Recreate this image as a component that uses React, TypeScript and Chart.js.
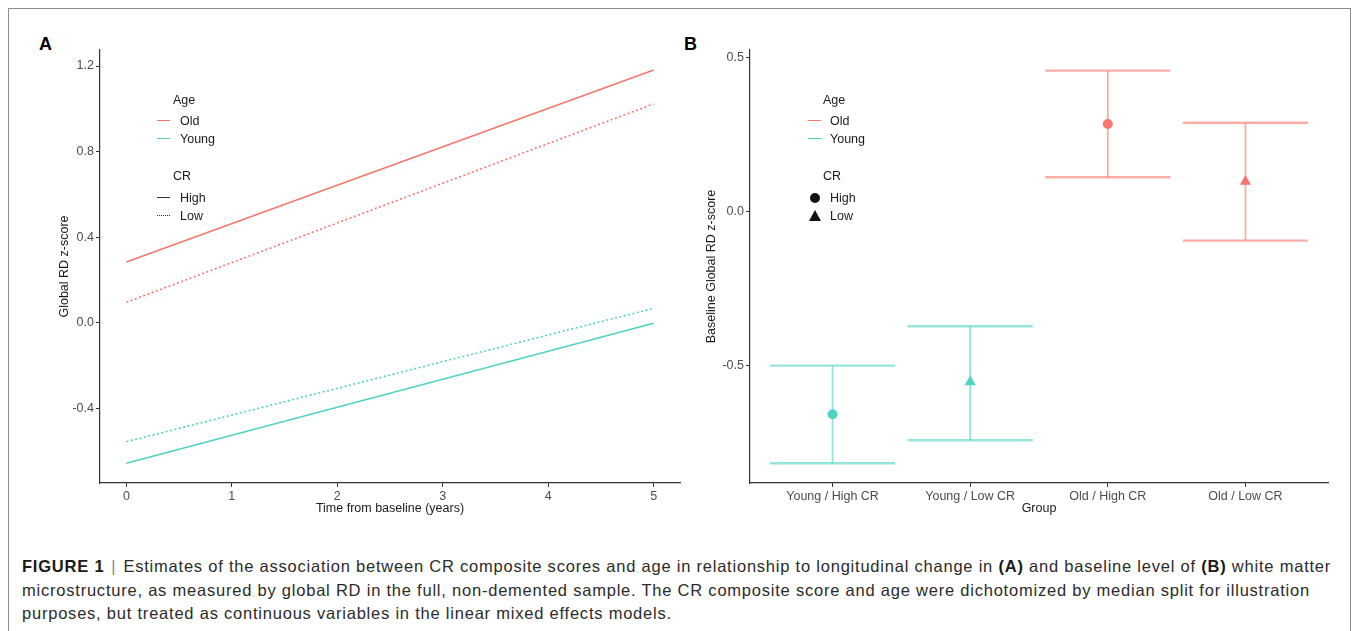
import React, { useEffect, useRef } from 'react';
import { Chart, registerables } from 'chart.js';

Chart.register(...registerables);

// ---------- Panel A data ----------
const YEARS = [0, 5];
const OLD_HIGH = [0.283, 1.182];
const OLD_LOW = [0.095, 1.023];
const YOUNG_HIGH = [-0.658, -0.003];
const YOUNG_LOW = [-0.557, 0.067];
const A_X_TICKS = [0, 1, 2, 3, 4, 5];
const A_Y_TICKS = [-0.4, 0.0, 0.4, 0.8, 1.2];

// ---------- Panel B data ----------
const GROUPS = ['Young / High CR', 'Young / Low CR', 'Old / High CR', 'Old / Low CR'];
const GROUP_AGE = ['Young', 'Young', 'Old', 'Old'];
const GROUP_CR = ['High', 'Low', 'High', 'Low'];
const ESTIMATE = [-0.66, -0.555, 0.283, 0.096];
const LOWER = [-0.819, -0.744, 0.11, -0.096];
const UPPER = [-0.502, -0.374, 0.456, 0.287];
const B_Y_TICKS = [-0.5, 0.0, 0.5];

const OLD_COLOR = '#F8766D';
const YOUNG_COLOR = '#4ED3C4';
const OLD_BAR = 'rgba(248,118,109,0.6)';
const YOUNG_BAR = 'rgba(78,211,196,0.6)';
const FONT = "'Liberation Sans', Arial, Helvetica, sans-serif";
const AXIS_COLOR = '#333333';
const TICK_TEXT = '#4d4d4d';

const ageColor = (a: string) => (a === 'Old' ? OLD_COLOR : YOUNG_COLOR);
const ageBar = (a: string) => (a === 'Old' ? OLD_BAR : YOUNG_BAR);

function axisCommon() {
  return {
    grid: { display: true, drawOnChartArea: false, drawTicks: true, tickLength: 4, color: AXIS_COLOR, lineWidth: 1 },
    border: { display: true, color: AXIS_COLOR, width: 1.2 },
  };
}

function PanelA() {
  const ref = useRef<HTMLCanvasElement | null>(null);
  useEffect(() => {
    if (!ref.current) return;
    const mk = (ys: number[], color: string, dotted: boolean) => ({
      data: YEARS.map((x, i) => ({ x, y: ys[i] })),
      borderColor: color,
      backgroundColor: color,
      borderWidth: 1.6,
      borderDash: dotted ? [2, 2.5] : [],
      pointRadius: 0,
      fill: false,
      tension: 0,
    });
    const chart = new Chart(ref.current, {
      type: 'line',
      data: {
        datasets: [
          mk(OLD_HIGH, OLD_COLOR, false),
          mk(OLD_LOW, OLD_COLOR, true),
          mk(YOUNG_HIGH, YOUNG_COLOR, false),
          mk(YOUNG_LOW, YOUNG_COLOR, true),
        ],
      },
      options: {
        animation: false,
        responsive: false,
        maintainAspectRatio: false,
        layout: { padding: { left: 57, top: 10, right: 10, bottom: 14 } },
        plugins: { legend: { display: false }, tooltip: { enabled: false } },
        scales: {
          x: {
            type: 'linear',
            min: -0.25,
            max: 5.25,
            ...axisCommon(),
            afterBuildTicks: (ax: any) => { ax.ticks = A_X_TICKS.map((v) => ({ value: v })); },
            afterFit: (s: any) => { s.height = 33; },
            ticks: { color: TICK_TEXT, font: { size: 12.5, family: FONT }, padding: 2, maxRotation: 0, callback: (v: any) => String(v) },
            title: { display: true, text: 'Time from baseline (years)', color: '#1a1a1a', font: { size: 12.5, family: FONT }, padding: { top: 0, bottom: 0 } },
          },
          y: {
            type: 'linear',
            min: -0.75,
            max: 1.275,
            ...axisCommon(),
            afterBuildTicks: (ax: any) => { ax.ticks = A_Y_TICKS.map((v) => ({ value: v })); },
            afterFit: (s: any) => { s.width = 43; },
            ticks: { color: TICK_TEXT, font: { size: 12.5, family: FONT }, padding: 2, callback: (v: any) => Number(v).toFixed(1) },
            title: { display: true, text: 'Global RD z-score', color: '#1a1a1a', font: { size: 12.5, family: FONT }, padding: { top: 0, bottom: 0 } },
          },
        },
      } as any,
    });
    return () => chart.destroy();
  }, []);
  return <canvas ref={ref} width={690} height={490} style={{ position: 'absolute', left: 0, top: 40, width: 690, height: 490 }} />;
}

function PanelB() {
  const ref = useRef<HTMLCanvasElement | null>(null);
  useEffect(() => {
    if (!ref.current) return;
    const CAP = 0.455;
    const points = GROUPS.map((g, i) => ({
      label: g,
      data: [{ x: i + 1, y: ESTIMATE[i] }],
      showLine: false,
      pointStyle: GROUP_CR[i] === 'High' ? 'circle' : 'triangle',
      pointRadius: GROUP_CR[i] === 'High' ? 5 : 6.5,
      pointBackgroundColor: ageColor(GROUP_AGE[i]),
      pointBorderColor: ageColor(GROUP_AGE[i]),
      pointBorderWidth: 0,
    }));
    const bars: any[] = [];
    GROUPS.forEach((g, i) => {
      const c = ageBar(GROUP_AGE[i]);
      const base = { showLine: true, pointRadius: 0, borderColor: c, backgroundColor: c, fill: false, tension: 0 };
      bars.push({ ...base, borderWidth: 1.8, data: [{ x: i + 1, y: LOWER[i] }, { x: i + 1, y: UPPER[i] }] });
      bars.push({ ...base, borderWidth: 2.4, data: [{ x: i + 1 - CAP, y: UPPER[i] }, { x: i + 1 + CAP, y: UPPER[i] }] });
      bars.push({ ...base, borderWidth: 2.4, data: [{ x: i + 1 - CAP, y: LOWER[i] }, { x: i + 1 + CAP, y: LOWER[i] }] });
    });
    const chart = new Chart(ref.current, {
      type: 'scatter',
      data: { datasets: [...points, ...bars] },
      options: {
        animation: false,
        responsive: false,
        maintainAspectRatio: false,
        layout: { padding: { left: 14.5, top: 10, right: 12, bottom: 14 } },
        plugins: { legend: { display: false }, tooltip: { enabled: false } },
        scales: {
          x: {
            type: 'linear',
            min: 0.4,
            max: 4.6,
            ...axisCommon(),
            afterBuildTicks: (ax: any) => { ax.ticks = GROUPS.map((_, i) => ({ value: i + 1 })); },
            afterFit: (s: any) => { s.height = 33; },
            ticks: { color: TICK_TEXT, font: { size: 12.5, family: FONT }, padding: 2, maxRotation: 0, autoSkip: false, callback: (v: any) => GROUPS[Math.round(Number(v)) - 1] ?? '' },
            title: { display: true, text: 'Group', color: '#1a1a1a', font: { size: 12.5, family: FONT }, padding: { top: 0, bottom: 0 } },
          },
          y: {
            type: 'linear',
            min: -0.883,
            max: 0.523,
            ...axisCommon(),
            afterBuildTicks: (ax: any) => { ax.ticks = B_Y_TICKS.map((v) => ({ value: v })); },
            afterFit: (s: any) => { s.width = 45.5; },
            ticks: { color: TICK_TEXT, font: { size: 12.5, family: FONT }, padding: 2, callback: (v: any) => Number(v).toFixed(1) },
            title: { display: true, text: 'Baseline Global RD z-score', color: '#1a1a1a', font: { size: 12.5, family: FONT }, padding: { top: 0, bottom: 0 } },
          },
        },
      } as any,
    });
    return () => chart.destroy();
  }, []);
  return <canvas ref={ref} width={650} height={490} style={{ position: 'absolute', left: 690, top: 40, width: 650, height: 490 }} />;
}

const txt = (left: number, cy: number, size = 12.5, extra: React.CSSProperties = {}): React.CSSProperties => ({
  position: 'absolute', left, top: cy, transform: 'translateY(-50%)', fontSize: size, lineHeight: 1,
  fontFamily: FONT, color: '#1a1a1a', whiteSpace: 'nowrap', ...extra,
});

function LineSample({ left, cy, color, dotted }: { left: number; cy: number; color: string; dotted?: boolean }) {
  return <div style={{ position: 'absolute', left, top: cy - 1, width: 13, height: 0, borderTop: `1.6px ${dotted ? 'dotted' : 'solid'} ${color}` }} />;
}

function LegendA() {
  const L = 157;
  const T = 180;
  return (
    <>
      <div style={txt(173, 100)}>Age</div>
      <LineSample left={L} cy={121} color={OLD_COLOR} />
      <div style={txt(T, 121)}>Old</div>
      <LineSample left={L} cy={139} color={YOUNG_COLOR} />
      <div style={txt(T, 139)}>Young</div>
      <div style={txt(173, 176)}>CR</div>
      <LineSample left={L} cy={198} color={'#333'} />
      <div style={txt(T, 198)}>High</div>
      <LineSample left={L} cy={216} color={'#333'} dotted />
      <div style={txt(T, 216)}>Low</div>
    </>
  );
}

function LegendB() {
  const L = 808;
  const T = 830;
  return (
    <>
      <div style={txt(823, 100)}>Age</div>
      <LineSample left={L} cy={121} color={OLD_COLOR} />
      <div style={txt(T, 121)}>Old</div>
      <LineSample left={L} cy={139} color={YOUNG_COLOR} />
      <div style={txt(T, 139)}>Young</div>
      <div style={txt(823, 176)}>CR</div>
      <div style={{ position: 'absolute', left: 810, top: 193, width: 10, height: 10, borderRadius: '50%', background: '#111' }} />
      <div style={txt(T, 198)}>High</div>
      <div style={{ position: 'absolute', left: 809, top: 210, width: 0, height: 0, borderLeft: '6px solid transparent', borderRight: '6px solid transparent', borderBottom: '11px solid #111' }} />
      <div style={txt(T, 216)}>Low</div>
    </>
  );
}

export default function App() {
  return (
    <div style={{ position: 'absolute', left: 0, top: 0, width: 1355, height: 631, overflow: 'hidden', background: '#fff' }}>
      <div style={{ position: 'absolute', left: 8, top: 8, width: 1343, height: 640, border: '1px solid #8c8c8c', boxSizing: 'border-box' }} />
      <div style={{ position: 'absolute', left: 39, top: 35, fontSize: 18, lineHeight: '18px', fontWeight: 'bold', fontFamily: FONT, color: '#000' }}>A</div>
      <div style={{ position: 'absolute', left: 684, top: 35, fontSize: 18, lineHeight: '18px', fontWeight: 'bold', fontFamily: FONT, color: '#000' }}>B</div>
      <PanelA />
      <PanelB />
      <LegendA />
      <LegendB />
      <div style={{ position: 'absolute', left: 22, top: 555, fontSize: 16.5, lineHeight: '23.5px', letterSpacing: '0.78px', fontFamily: FONT, color: '#2b2b2b', whiteSpace: 'nowrap' }}>
        <b style={{ color: '#1a1a1a' }}>FIGURE 1</b><span style={{ color: '#888', margin: '0 7px' }}>|</span>Estimates of the association between CR composite scores and age in relationship to longitudinal change in <b style={{ color: '#1a1a1a' }}>(A)</b> and baseline level of <b style={{ color: '#1a1a1a' }}>(B)</b> white matter
        <br />
        microstructure, as measured by global RD in the full, non-demented sample. The CR composite score and age were dichotomized by median split for illustration
        <br />
        purposes, but treated as continuous variables in the linear mixed effects models.
      </div>
    </div>
  );
}
